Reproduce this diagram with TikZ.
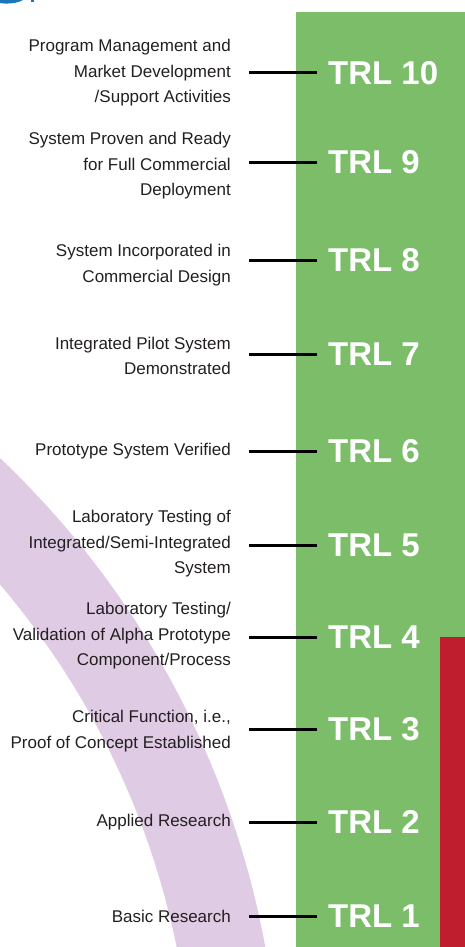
\documentclass[tikz,border=0pt]{standalone}
\usepackage{fontspec}
\setmainfont{Liberation Sans}
\definecolor{trlgreen}{RGB}{124,189,106}
\definecolor{trlred}{RGB}{190,30,45}
\definecolor{arcpurple}{RGB}{223,203,228}
\definecolor{titleblue}{RGB}{27,117,187}
\definecolor{txt}{RGB}{35,31,32}
\tikzset{
  lbl/.style={anchor=east, align=right, inner sep=0pt, text=txt,
    font=\fontsize{17}{25.5}\selectfont},
  trl/.style={anchor=west, inner sep=0pt, text=white,
    font=\fontsize{33}{36}\selectfont\bfseries},
  conn/.style={draw=black, line width=3pt}
}
\begin{document}
\begin{tikzpicture}[x=1pt,y=-1pt]
\useasboundingbox (0,0) rectangle (465,947);
\begin{scope}
\clip (0,0) rectangle (465,947);
% purple arc band (part of a large annulus)
\fill[arcpurple, even odd rule] (-619,1110) circle[radius=899pt] (-619,1110) circle[radius=812pt];
% title fragment
\fill[titleblue] (0,0) -- (23,0) .. controls (19,2.5) and (12,3.6) .. (6,3.6) .. controls (3,3.6) and (1,3.2) .. (0,3) -- cycle;
\fill[titleblue] (31,0) rectangle (34,2.5);
\end{scope}
% bars
\fill[trlgreen] (296,12) rectangle (465,947);
\fill[trlred] (440,637) rectangle (465,947);
% TRL labels
\node[trl] (T10) at (328,73) {TRL 10};
\node[trl] (T9) at (328,162) {TRL 9};
\node[trl] (T8) at (328,260) {TRL 8};
\node[trl] (T7) at (328,354) {TRL 7};
\node[trl] (T6) at (328,451) {TRL 6};
\node[trl] (T5) at (328,545) {TRL 5};
\node[trl] (T4) at (328,637) {TRL 4};
\node[trl] (T3) at (328,729) {TRL 3};
\node[trl] (T2) at (328,822) {TRL 2};
\node[trl] (T1) at (328,916) {TRL 1};
% descriptions
\node[lbl] (L10) at (231,73) {Program Management and\\Market Development\\/Support Activities};
\node[lbl] (L9) at (231,166) {System Proven and Ready\\for Full Commercial\\Deployment};
\node[lbl] (L8) at (231,265) {System Incorporated in\\Commercial Design};
\node[lbl] (L7) at (231,356) {Integrated Pilot System\\Demonstrated};
\node[lbl] (L6) at (231,451) {Prototype System Verified};
\node[lbl] (L5) at (231,544) {Laboratory Testing of\\Integrated/Semi-Integrated\\System};
\node[lbl] (L4) at (231,636) {Laboratory Testing/\\Validation of Alpha Prototype\\Component/Process};
\node[lbl] (L3) at (231,731) {Critical Function, i.e.,\\Proof of Concept Established};
\node[lbl] (L2) at (231,822) {Applied Research};
\node[lbl] (L1) at (231,916) {Basic Research};
% connectors
\foreach \i in {1,...,10}{
  \draw[conn] ([xshift=18pt]L\i.east |- T\i.west) -- ([xshift=-11pt]T\i.west);
}
\end{tikzpicture}
\end{document}
